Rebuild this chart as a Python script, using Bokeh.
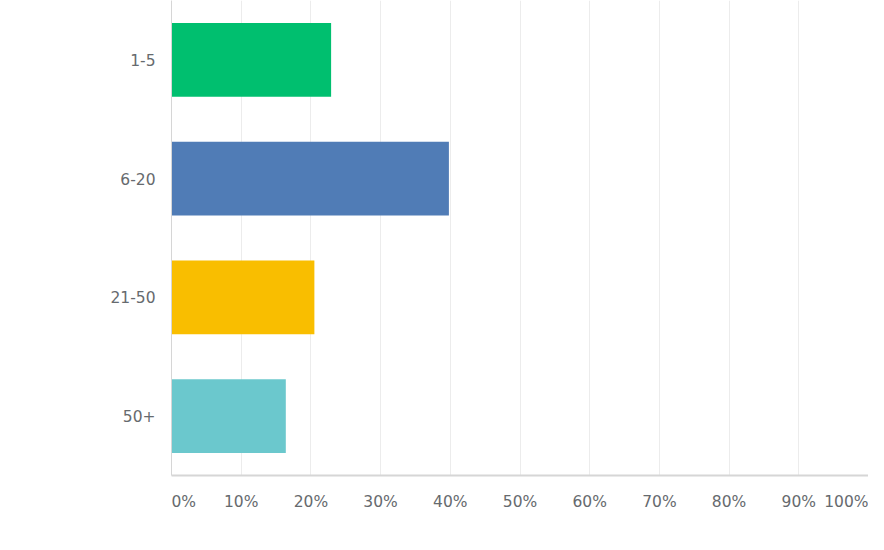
from bokeh.plotting import figure
from bokeh.models import Range1d, FixedTicker
from bokeh.models import ColumnDataSource
from bokeh.embed import file_html
from bokeh.resources import INLINE

categories = ["1-5", "6-20", "21-50", "50+"]
percents = [22.9, 39.8, 20.5, 16.4]
colors = ["#00BF6F", "#507CB6", "#F9BE00", "#6BC8CD"]
x_ticks = [0, 10, 20, 30, 40, 50, 60, 70, 80, 90, 100]
x_tick_labels = ["0%", "10%", "20%", "30%", "40%", "50%", "60%", "70%", "80%", "90%", "100%"]

FONT = "DejaVu Sans"
TXT = "#666a6e"
FS = "15.5px"

positions = list(range(len(categories)))
src = ColumnDataSource(dict(y=positions, right=percents, color=colors))

p = figure(width=868, height=534, output_backend="svg", toolbar_location=None,
           x_range=Range1d(0, 100), y_range=Range1d(3.5, -0.5),
           min_border_left=171, min_border_right=0, min_border_top=0, min_border_bottom=59)
p.outline_line_color = None
p.background_fill_color = "white"
p.border_fill_color = "white"

p.hbar(y="y", left=0, right="right", height=0.62, color="color", line_color=None, source=src)

# grid
p.xgrid.ticker = FixedTicker(ticks=x_ticks)
p.xgrid.grid_line_color = "#ececec"
p.xgrid.grid_line_width = 1
p.ygrid.grid_line_color = None

# x axis labels: edge labels nudged inward like the reference
label_pos = list(x_ticks)
label_pos[0] = 1.75
label_pos[-1] = 97.0
p.xaxis.ticker = FixedTicker(ticks=label_pos)
p.xaxis.major_label_overrides = {pos: s for pos, s in zip(label_pos, x_tick_labels)}
p.xaxis.major_label_text_font = FONT
p.xaxis.major_label_text_font_size = FS
p.xaxis.major_label_text_color = TXT
p.xaxis.major_label_standoff = 11
p.xaxis.major_tick_line_color = None
p.xaxis.minor_tick_line_color = None
p.xaxis.axis_line_color = "#d6d6d6"
p.xaxis.axis_line_width = 2

# y axis
p.yaxis.ticker = FixedTicker(ticks=positions)
p.yaxis.major_label_overrides = {i: c for i, c in zip(positions, categories)}
p.yaxis.major_label_text_font = FONT
p.yaxis.major_label_text_font_size = FS
p.yaxis.major_label_text_color = TXT
p.yaxis.major_label_standoff = 10
p.yaxis.major_tick_line_color = None
p.yaxis.minor_tick_line_color = None
p.yaxis.axis_line_color = "#d6d6d6"
p.yaxis.axis_line_width = 1

open("out.html", "w").write(file_html(p, INLINE))
